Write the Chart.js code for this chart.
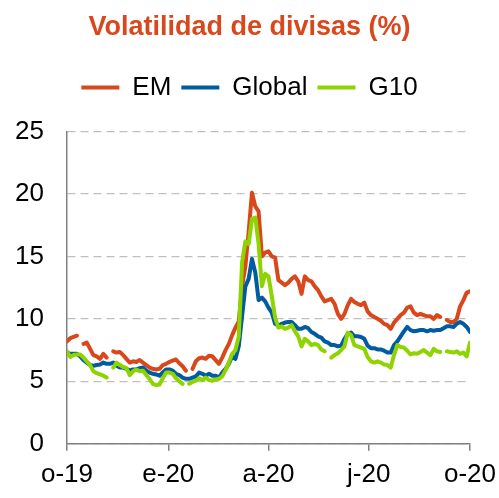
<!DOCTYPE html>
<html lang="es">
<head>
<meta charset="utf-8">
<title>Volatilidad de divisas (%)</title>
<script src="https://cdn.jsdelivr.net/npm/chart.js@4/dist/chart.umd.min.js"></script>
<style>
  html, body { margin: 0; padding: 0; background: #fff; }
  #wrap { width: 499px; height: 498px; }
</style>
</head>
<body>
<div id="wrap"><canvas id="fxChart" width="499" height="498"></canvas></div>
<script>
/* ── Data (daily series sampled every 3 days, 1 Oct 2019 → 1 Oct 2020) ── */
const tickDays   = [0, 92, 183, 274, 366];
const tickLabels = ['o-19', 'e-20', 'a-20', 'j-20', 'o-20'];

const em = [
  8.2, 8.45, 8.55, 8.65, null, 8.0, 8.1, 7.6, 7.1, 7.0,
  6.8, 7.2, 6.9, null, 7.4, 7.3, 7.35, 7.1, 6.8, 6.5,
  6.6, 6.55, 6.7, 6.5, 6.3, 6.1, 6.0, 5.95, 6.0, 6.3,
  6.4, 6.55, 6.65, 6.75, 6.45, 6.2, 5.85, null, 6.0, 6.6,
  6.85, 6.9, 6.8, 7.05, 7.0, 6.7, 6.4, 6.9, 7.5, 8.0,
  8.7, 9.3, 9.8, 12.6, 14.2, 17.0, 20.1, 19.0, 18.6, 15.0,
  15.3, 15.4, 15.0, 14.9, 13.1, 12.9, 12.7, 12.9, 13.2, 13.4,
  13.0, 12.0, 13.4, 13.1, 13.0, 12.6, 12.3, 11.8, 11.4, 11.5,
  11.6, 11.2, 10.4, 10.0, 10.4, 11.1, 11.6, 11.35, 11.2, 11.1,
  11.3, 10.6, 10.3, 10.15, 10.0, 9.85, 9.6, 9.5, 9.2, 9.7,
  10.0, 10.3, 10.5, 10.9, 11.0, 10.5, 10.3, 10.4, 10.3, 10.2,
  10.2, 10.0, 10.3, 10.15, null, 9.9, 9.75, 9.75, 10.0, 11.0,
  11.5, 12.1, 12.2
];

const globalFx = [
  7.3, 7.2, 7.2, 7.2, 7.0, 6.7, 6.5, 6.3, 6.25, 6.3,
  6.35, 6.5, 6.4, 6.4, 6.5, 6.25, 6.1, 6.1, 6.0, 5.85,
  5.95, 5.95, 6.05, 6.1, 5.85, 5.7, 5.6, 5.55, 5.45, 5.7,
  5.95, 5.95, 5.85, 5.6, 5.5, 5.3, 5.2, 5.2, 5.3, 5.4,
  5.7, 5.6, 5.45, 5.6, 5.45, 5.45, 5.3, 5.7, 6.0, 6.4,
  7.0, 6.8, 7.8, 10.2, 12.6, 13.2, 14.8, 13.7, 11.5, 11.7,
  11.4, 10.9, 10.5, 9.6, 9.45, 9.6, 9.7, 9.75, 9.75, 9.5,
  9.2, 9.2, 9.35, 9.25, 8.95, 8.8, 8.6, 8.5, 8.2, 8.1,
  7.9, 7.9, 7.8, 7.85, 8.4, 8.8, 8.9, 8.6, 8.6, 8.55,
  8.4, 7.85, 7.65, 7.65, 7.55, 7.55, 7.45, 7.3, 7.3, 7.9,
  8.2, 8.6, 9.0, 9.35, 9.1, 9.0, 9.05, 9.1, 9.1, 9.0,
  9.1, 9.05, 9.1, 9.1, 9.25, 9.4, 9.4, 9.35, 9.6, 9.75,
  9.6, 9.35, 8.95
];

const g10 = [
  7.4, 6.95, 7.1, 7.15, 7.15, 6.9, 6.6, 6.3, 5.8, 5.65,
  5.55, 5.45, 5.3, null, 6.1, 6.5, 6.3, 6.15, 6.05, 5.5,
  5.8, 5.95, 5.8, 5.85, 5.5, 5.2, 4.8, 4.7, 4.75, 5.25,
  5.7, 5.7, 5.6, 5.25, 5.0, 4.8, null, 4.8, 4.95, 5.05,
  5.25, 5.1, 5.3, 5.1, 5.05, 5.15, 5.2, 5.4, 5.9, 6.5,
  7.2, 7.5, 8.6, 14.5, 16.2, 16.0, 18.0, 18.1, 16.0, 12.6,
  13.6, 13.4, 11.8, 10.1, 9.3, 9.4, 9.2, 9.3, 9.5, 9.0,
  8.6, 7.8, 8.4, 8.2, 7.9, 8.0, 7.9, 7.55, 7.4, null,
  6.9, 7.1, 7.25, 7.5, 7.8, 8.9, 8.7, 7.9, 7.8, 7.7,
  7.6, 6.95, 6.6, 6.5, 6.6, 6.5, 6.35, 6.3, 6.1, 7.1,
  7.9, 7.75, 7.7, 7.45, 7.15, 7.25, 7.2, 7.35, 7.5, 7.3,
  7.1, 7.6, 7.4, 7.35, null, 7.4, 7.35, 7.3, 7.4, 7.2,
  7.3, 7.0, 8.1
];

// day offset of each sample (every 3 days)
const days = em.map((_, i) => i * 3);

/* ── Colours ──────────────────────────────────────── */
const RED   = '#D9481C';
const BLUE  = '#005C9F';
const GREEN = '#8FD400';
const GRID  = '#BFBFBF';
const AXIS  = '#808080';

function series(label, values, color, order) {
  return {
    label,
    data: values.map((v, i) => ({ x: days[i], y: v })),
    borderColor: color,
    backgroundColor: color,
    borderWidth: 4,
    borderCapStyle: 'round',
    borderJoinStyle: 'round',
    pointRadius: 0,
    tension: 0,
    spanGaps: false,
    order
  };
}

/* ── Extra room between legend and plot ───────────── */
const legendGap = {
  id: 'legendGap',
  beforeInit(chart) {
    const fit = chart.legend.fit;
    chart.legend.fit = function () { fit.call(this); this.height += 21; };
  }
};

Chart.defaults.font.family = 'Arial, "Liberation Sans", sans-serif';
Chart.defaults.color = '#000';

new Chart(document.getElementById('fxChart'), {
  type: 'line',
  data: {
    datasets: [
      series('EM', em, RED, 3),
      series('Global', globalFx, BLUE, 2),
      series('G10', g10, GREEN, 1)
    ]
  },
  plugins: [legendGap],
  options: {
    responsive: false,
    animation: false,
    layout: { padding: 0 },
    plugins: {
      title: {
        display: true,
        text: 'Volatilidad de divisas (%)',
        color: RED,
        font: { size: 27, weight: 'bold' },
        padding: { top: 11, bottom: 21 }
      },
      legend: {
        labels: {
          usePointStyle: true,
          pointStyle: 'line',
          pointStyleWidth: 38,
          font: { size: 26 },
          color: '#000',
          padding: 10,
          sort: (a, b) => a.datasetIndex - b.datasetIndex
        }
      },
      tooltip: { enabled: false }
    },
    scales: {
      x: {
        type: 'linear',
        min: 0,
        max: 366,
        afterBuildTicks: s => { s.ticks = tickDays.map(v => ({ value: v })); },
        afterFit: s => { s.paddingRight = 29; },
        grid: { drawOnChartArea: false, drawTicks: true, tickLength: 7, color: AXIS, lineWidth: 1.5 },
        border: { color: AXIS, width: 1.5 },
        ticks: {
          font: { size: 26 }, color: '#000', padding: 8,
          maxRotation: 0, autoSkip: false,
          callback: v => tickLabels[tickDays.indexOf(v)]
        }
      },
      y: {
        min: 0,
        max: 25,
        afterFit: s => { s.width = 67; },
        ticks: { stepSize: 5, font: { size: 26 }, color: '#000', padding: 23 },
        grid: { drawTicks: false, lineWidth: 1.3, color: GRID },
        border: { color: AXIS, width: 1.5, dash: [8, 5] }
      }
    }
  }
});
</script>
</body>
</html>
